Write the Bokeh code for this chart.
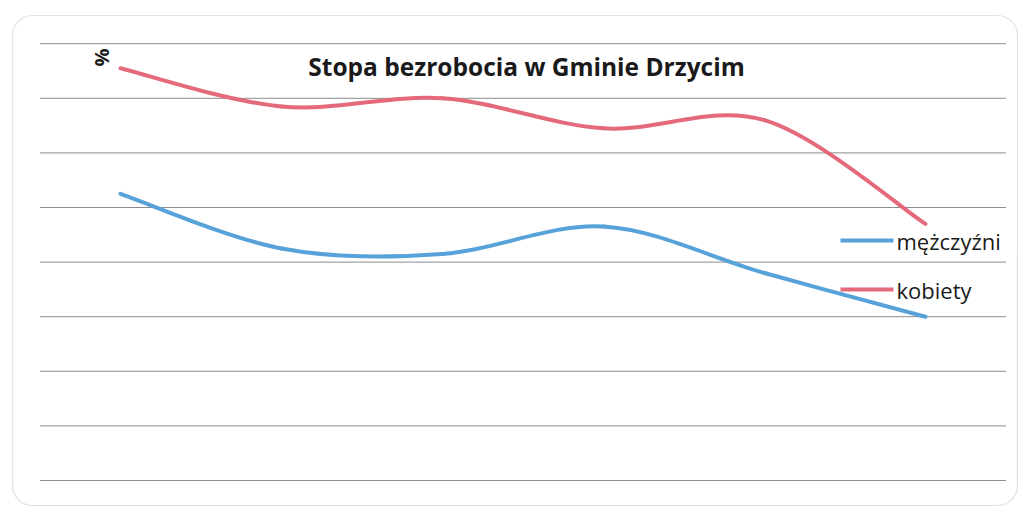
import math
from bokeh.plotting import figure
from bokeh.models import Range1d, BoxAnnotation, Label, ColumnDataSource
from bokeh.core.properties import value
from bokeh.embed import file_html
from bokeh.resources import INLINE

# ---- data ----
years = ["1", "2", "3", "4", "5", "6"]          # category positions (unlabelled in the source)
men = [10.5, 8.5, 8.3, 9.3, 7.6, 6.0]           # mężczyźni, %
women = [15.1, 13.7, 14.0, 12.9, 13.2, 9.4]     # kobiety, %
grid_values = [0, 2, 4, 6, 8, 10, 12, 14, 16]
title_text = "Stopa bezrobocia w Gminie Drzycim"
series_names = ["mężczyźni", "kobiety"]
colors = ["#58A2DA", "#E46A7B"]

# ---- layout helpers (page pixel -> data) ----
W, H = 1020, 510
ORG = 0                          # page offset of the canvas
X0_PX, DX_PX = 120.0, 161.0     # page x of first category, spacing
Y0_PX, DY_PX = 480.0, 27.3      # page y of value 0, px per unit


def px2x(px):
    return (px - X0_PX) / DX_PX


def py2y(py):
    return (Y0_PX - py) / DY_PX


p = figure(width=W, height=H, output_backend="svg", toolbar_location=None,
           x_axis_location=None, y_axis_location=None,
           min_border=0, min_border_left=0, min_border_right=0,
           min_border_top=0, min_border_bottom=0)
p.x_range = Range1d(px2x(ORG), px2x(ORG + W))
p.y_range = Range1d(py2y(ORG + H), py2y(ORG))
p.grid.visible = False
p.outline_line_color = None
p.background_fill_color = "white"
p.border_fill_color = "white"

# rounded frame
p.add_layout(BoxAnnotation(left=px2x(12), right=px2x(1017), top=py2y(15), bottom=py2y(505),
                           fill_alpha=0, line_color="#9a9a9a", line_width=1.2,
                           border_radius=20))

# horizontal gridlines spanning the category band (-0.5 .. n-0.5)
n = len(years)
p.segment(x0=[-0.5] * len(grid_values), x1=[n - 0.5] * len(grid_values),
          y0=grid_values, y1=grid_values, line_color="#8c8c8c", line_width=1)


def smooth_segments(ys):
    xs = list(range(len(ys)))
    pts = list(zip(xs, ys))
    out = dict(x0=[], y0=[], x1=[], y1=[], cx0=[], cy0=[], cx1=[], cy1=[])
    for i in range(len(pts) - 1):
        p0 = pts[i - 1] if i > 0 else pts[i]
        p1 = pts[i]
        p2 = pts[i + 1]
        p3 = pts[i + 2] if i + 2 < len(pts) else pts[i + 1]
        out["x0"].append(p1[0]); out["y0"].append(p1[1])
        out["x1"].append(p2[0]); out["y1"].append(p2[1])
        out["cx0"].append(p1[0] + (p2[0] - p0[0]) / 6.0)
        out["cy0"].append(p1[1] + (p2[1] - p0[1]) / 6.0)
        out["cx1"].append(p2[0] - (p3[0] - p1[0]) / 6.0)
        out["cy1"].append(p2[1] - (p3[1] - p1[1]) / 6.0)
    return ColumnDataSource(out)


for ys, col in zip([men, women], colors):
    p.bezier(x0="x0", y0="y0", x1="x1", y1="y1", cx0="cx0", cy0="cy0",
             cx1="cx1", cy1="cy1", source=smooth_segments(ys),
             line_color=col, line_width=4, line_cap="round")

# title
p.add_layout(Label(x=px2x(526), y=py2y(66), text=title_text, text_align="center",
                   text_baseline="alphabetic", text_font="Open Sans",
                   text_font_style="bold", text_font_size="24.5px", text_color="#1a1a1a"))

# axis title "%" (rotated)
p.add_layout(Label(x=px2x(101), y=py2y(57), text="%", text_align="center",
                   text_baseline="middle", angle=math.pi / 2, text_font="Open Sans",
                   text_font_style="bold", text_font_size="20px", text_color="#1a1a1a"))

# legend (manual)
leg_y = [py2y(240), py2y(289)]
p.segment(x0=[px2x(840)] * 2, x1=[px2x(893)] * 2, y0=leg_y, y1=leg_y,
          line_color=colors, line_width=4)
p.text(x=[px2x(896)] * 2, y=leg_y, text=series_names, text_align="left",
       text_baseline="middle", text_font=value("Open Sans"), text_font_size="22px",
       text_color="#1a1a1a")

open("out.html", "w").write(file_html(p, INLINE))
